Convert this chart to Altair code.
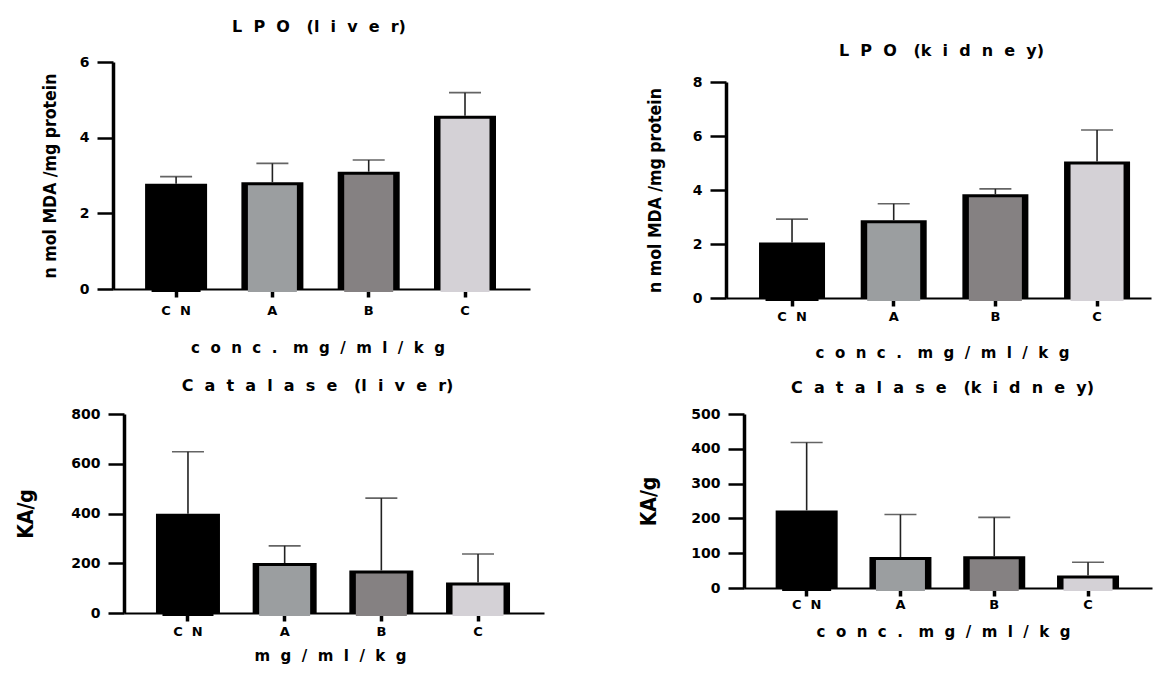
import altair as alt
import pandas as pd

# ---------------- data ----------------
groups = ["CN", "A", "B", "C"]
fills = ["#000000", "#9b9ea0", "#858182", "#d4d1d6"]

lpo_liver_mean = [2.78, 2.82, 3.10, 4.58]
lpo_liver_sd = [0.19, 0.50, 0.31, 0.61]

lpo_kidney_mean = [2.06, 2.88, 3.84, 5.06]
lpo_kidney_sd = [0.86, 0.61, 0.20, 1.16]

cat_liver_mean = [399, 201, 171, 123]
cat_liver_sd = [249, 69, 291, 114]

cat_kidney_mean = [223, 89, 91, 36]
cat_kidney_sd = [195, 122, 112, 38]

panel_titles = ["LPO (liver)", "LPO (kidney)", "Catalase (liver)", "Catalase (kidney)"]
x_titles = ["conc. mg/ml/kg", "conc. mg/ml/kg", "mg/ml/kg", "conc. mg/ml/kg"]
y_titles = ["n mol MDA /mg protein", "n mol MDA /mg protein", "KA/g", "KA/g"]
y_title_sizes = [17.5, 17.5, 21, 21]
y_domains = [[0, 6], [0, 8], [0, 800], [0, 500]]
y_ticks = [[0, 2, 4, 6], [0, 2, 4, 6, 8], [0, 200, 400, 600, 800],
           [0, 100, 200, 300, 400, 500]]

W, H = 1147, 657
FONT = "DejaVu Sans"
NARROW = "Liberation Sans Narrow, DejaVu Sans Condensed, Roboto, sans-serif"
GAP = "\u00a0 "


def wide(s):
    # the figure's horizontal text is drawn letter-spaced
    out = []
    for w in s.split(" "):
        t = GAP.join(w).replace("(" + GAP, "(").replace(GAP + ")", ")")
        out.append(t)
    return "\u00a0\u00a0 ".join(out)


def panel(mean, sd, i, xr, yr, po, al, bw, lab_pad, title_pos, xt_pos, yt_x):
    df = pd.DataFrame({"group": groups, "mean": mean, "sd": sd})
    df["upper"] = df["mean"] + df["sd"]
    xscale = alt.Scale(domain=groups, range=xr, paddingInner=0,
                       paddingOuter=po, align=al)
    yscale = alt.Scale(domain=y_domains[i], range=yr, nice=False)
    base = alt.Chart(df)

    x_axis = alt.Axis(orient="bottom", offset=-(H - yr[0]), domainWidth=2,
                      domainColor="black", tickSize=8, tickWidth=3.5,
                      tickColor="black", labelFont=FONT, labelFontSize=13,
                      labelFontWeight="bold", labelColor="black",
                      labelExpr="join(split(datum.label, ''), '\u00a0 ')",
                      labelPadding=lab_pad, labelAngle=0, grid=False,
                      title=wide(x_titles[i]), titleFont=FONT, titleFontSize=15,
                      titleFontWeight="bold", titleColor="black",
                      titleX=xt_pos[0], titleY=xt_pos[1],
                      titleBaseline="middle", titleAlign="center")
    y_axis = alt.Axis(orient="left", offset=-xr[0], values=y_ticks[i],
                      domainWidth=3.5, domainColor="black", tickSize=16,
                      tickWidth=2.5, tickColor="black", labelFont=FONT,
                      labelFontSize=14, labelFontWeight="bold",
                      labelColor="black", labelPadding=8, grid=False,
                      title=y_titles[i], titleFont=NARROW,
                      titleFontSize=y_title_sizes[i],
                      titleFontWeight="bold", titleColor="black",
                      titleX=yt_x, titleBaseline="middle")
    top_axis = alt.Axis(orient="top", domain=False, ticks=False, labels=False,
                        grid=False, title=wide(panel_titles[i]), titleFont=FONT,
                        titleFontSize=16, titleFontWeight="bold",
                        titleColor="black", titleX=title_pos[0],
                        titleY=title_pos[1], titleBaseline="middle",
                        titleAlign="center")

    outer = base.mark_bar(size=bw, color="black").encode(
        x=alt.X("group:N", scale=xscale, sort=groups, axis=x_axis),
        y=alt.Y("mean:Q", scale=yscale, axis=y_axis),
    )
    inner = base.mark_bar(size=bw - 13, yOffset=3).encode(
        x=alt.X("group:N", scale=xscale, sort=groups, axis=None),
        y=alt.Y("mean:Q", scale=yscale, axis=None),
        color=alt.Color("group:N", scale=alt.Scale(domain=groups, range=fills),
                        legend=None),
    )
    err = base.mark_rule(color="#222222", strokeWidth=1.6).encode(
        x=alt.X("group:N", scale=xscale, sort=groups, axis=None),
        y=alt.Y("mean:Q", scale=yscale, axis=None),
        y2="upper:Q",
    )
    cap = base.mark_tick(orient="horizontal", size=32, thickness=1.6,
                         color="#222222").encode(
        x=alt.X("group:N", scale=xscale, sort=groups, axis=top_axis),
        y=alt.Y("upper:Q", scale=yscale, axis=None),
    )
    return alt.layer(outer, inner, err, cap).resolve_axis(x="independent",
                                                           y="independent")


p1 = panel(lpo_liver_mean, lpo_liver_sd, 0, [105, 522], [281, 54], 0.165, 0.47,
           62, 7, (310.5, 18), (309.5, 58), -63)
p2 = panel(lpo_kidney_mean, lpo_kidney_sd, 1, [718, 1143], [290, 74], 0.09, 0.83,
           66, 4, (933, 42), (934, 54), -71)
p3 = panel(cat_liver_mean, cat_liver_sd, 2, [116, 536], [605, 406], 0.172, 0.47,
           64, 4, (309, 377), (322, 42), -98)
p4 = panel(cat_kidney_mean, cat_kidney_sd, 3, [736, 1144], [580, 406], 0.175, 0.48,
           62, 2, (934, 379), (935, 43), -95)

chart = alt.layer(p1, p2, p3, p4).resolve_scale(
    x="independent", y="independent"
).properties(
    width=W, height=H, padding=0,
    autosize=alt.AutoSizeParams(type="none"),
).configure_view(stroke=None)

chart.save("out.html", embed_options={"renderer": "svg", "actions": False})
